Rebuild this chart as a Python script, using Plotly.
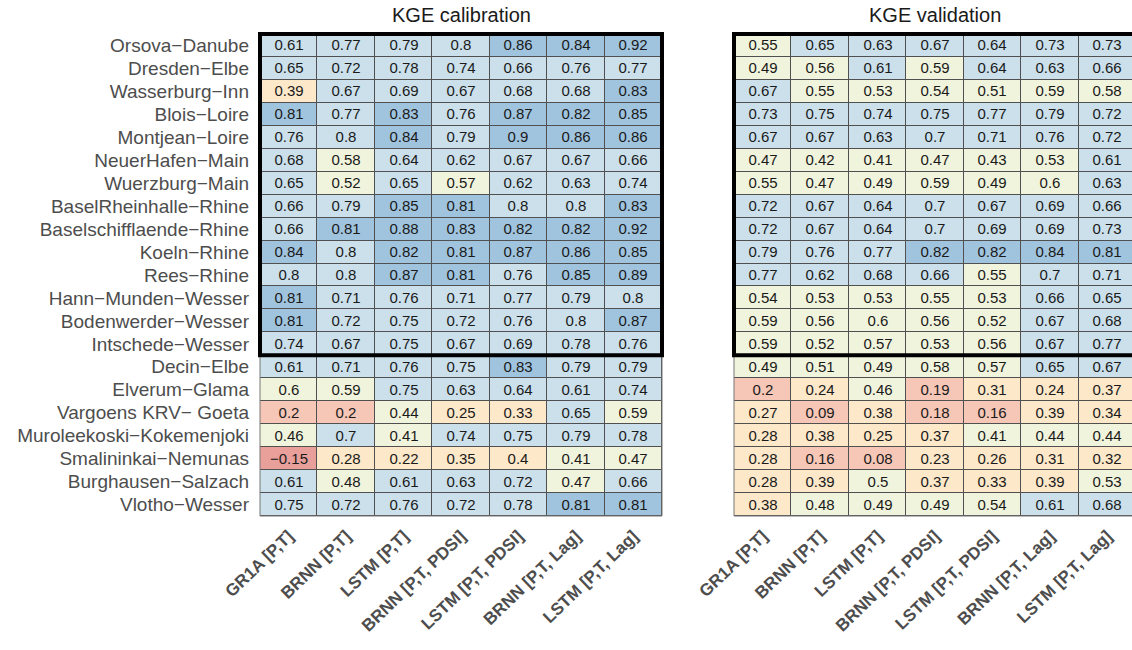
import plotly.graph_objects as go

# ---- data -------------------------------------------------------------
stations = [
    "Orsova\u2212Danube", "Dresden\u2212Elbe", "Wasserburg\u2212Inn", "Blois\u2212Loire",
    "Montjean\u2212Loire", "NeuerHafen\u2212Main", "Wuerzburg\u2212Main",
    "BaselRheinhalle\u2212Rhine", "Baselschifflaende\u2212Rhine", "Koeln\u2212Rhine",
    "Rees\u2212Rhine", "Hann\u2212Munden\u2212Wesser", "Bodenwerder\u2212Wesser",
    "Intschede\u2212Wesser", "Decin\u2212Elbe", "Elverum\u2212Glama",
    "Vargoens KRV\u2212 Goeta", "Muroleekoski\u2212Kokemenjoki",
    "Smalininkai\u2212Nemunas", "Burghausen\u2212Salzach", "Vlotho\u2212Wesser",
]

models = ["GR1A [P,T]", "BRNN [P,T]", "LSTM [P,T]", "BRNN [P,T, PDSI]",
          "LSTM [P,T, PDSI]", "BRNN [P,T, Lag]", "LSTM [P,T, Lag]"]

kge_calibration = [
    [0.61, 0.77, 0.79, 0.8, 0.86, 0.84, 0.92],
    [0.65, 0.72, 0.78, 0.74, 0.66, 0.76, 0.77],
    [0.39, 0.67, 0.69, 0.67, 0.68, 0.68, 0.83],
    [0.81, 0.77, 0.83, 0.76, 0.87, 0.82, 0.85],
    [0.76, 0.8, 0.84, 0.79, 0.9, 0.86, 0.86],
    [0.68, 0.58, 0.64, 0.62, 0.67, 0.67, 0.66],
    [0.65, 0.52, 0.65, 0.57, 0.62, 0.63, 0.74],
    [0.66, 0.79, 0.85, 0.81, 0.8, 0.8, 0.83],
    [0.66, 0.81, 0.88, 0.83, 0.82, 0.82, 0.92],
    [0.84, 0.8, 0.82, 0.81, 0.87, 0.86, 0.85],
    [0.8, 0.8, 0.87, 0.81, 0.76, 0.85, 0.89],
    [0.81, 0.71, 0.76, 0.71, 0.77, 0.79, 0.8],
    [0.81, 0.72, 0.75, 0.72, 0.76, 0.8, 0.87],
    [0.74, 0.67, 0.75, 0.67, 0.69, 0.78, 0.76],
    [0.61, 0.71, 0.76, 0.75, 0.83, 0.79, 0.79],
    [0.6, 0.59, 0.75, 0.63, 0.64, 0.61, 0.74],
    [0.2, 0.2, 0.44, 0.25, 0.33, 0.65, 0.59],
    [0.46, 0.7, 0.41, 0.74, 0.75, 0.79, 0.78],
    [-0.15, 0.28, 0.22, 0.35, 0.4, 0.41, 0.47],
    [0.61, 0.48, 0.61, 0.63, 0.72, 0.47, 0.66],
    [0.75, 0.72, 0.76, 0.72, 0.78, 0.81, 0.81],
]

kge_validation = [
    [0.55, 0.65, 0.63, 0.67, 0.64, 0.73, 0.73],
    [0.49, 0.56, 0.61, 0.59, 0.64, 0.63, 0.66],
    [0.67, 0.55, 0.53, 0.54, 0.51, 0.59, 0.58],
    [0.73, 0.75, 0.74, 0.75, 0.77, 0.79, 0.72],
    [0.67, 0.67, 0.63, 0.7, 0.71, 0.76, 0.72],
    [0.47, 0.42, 0.41, 0.47, 0.43, 0.53, 0.61],
    [0.55, 0.47, 0.49, 0.59, 0.49, 0.6, 0.63],
    [0.72, 0.67, 0.64, 0.7, 0.67, 0.69, 0.66],
    [0.72, 0.67, 0.64, 0.7, 0.69, 0.69, 0.73],
    [0.79, 0.76, 0.77, 0.82, 0.82, 0.84, 0.81],
    [0.77, 0.62, 0.68, 0.66, 0.55, 0.7, 0.71],
    [0.54, 0.53, 0.53, 0.55, 0.53, 0.66, 0.65],
    [0.59, 0.56, 0.6, 0.56, 0.52, 0.67, 0.68],
    [0.59, 0.52, 0.57, 0.53, 0.56, 0.67, 0.77],
    [0.49, 0.51, 0.49, 0.58, 0.57, 0.65, 0.67],
    [0.2, 0.24, 0.46, 0.19, 0.31, 0.24, 0.37],
    [0.27, 0.09, 0.38, 0.18, 0.16, 0.39, 0.34],
    [0.28, 0.38, 0.25, 0.37, 0.41, 0.44, 0.44],
    [0.28, 0.16, 0.08, 0.23, 0.26, 0.31, 0.32],
    [0.28, 0.39, 0.5, 0.37, 0.33, 0.39, 0.53],
    [0.38, 0.48, 0.49, 0.49, 0.54, 0.61, 0.68],
]

# the first stations are framed as one group
n_framed = 14

# KGE classes: (-inf,0], (0,0.2], (0.2,0.4], (0.4,0.6], (0.6,0.8], (0.8,1]
class_edges = [0.0, 0.2, 0.4, 0.6, 0.8]
class_colors = ["#e9a09a", "#f6c6b6", "#fde8c9", "#f1f4dc", "#cbe0eb", "#a0c4de"]

# ---- helpers ------------------------------------------------------------
def kge_class(v):
    return sum(v > e for e in class_edges)


def label(v):
    return f"{v:g}".replace("-", "\u2212")


colorscale = [[i / (len(class_colors) - 1), c] for i, c in enumerate(class_colors)]

# ---- layout geometry (pixels) ------------------------------------------
W, H = 1132, 650
left_x0, left_x1 = 260, 662
right_x0 = 734
top_y, bottom_y = 34, 516
col_w = (left_x1 - left_x0) / len(models)
right_range_end = -0.5 + (W - right_x0) / col_w

FONT = "Liberation Sans, Arial, Helvetica, sans-serif"
GRID = "#505050"

fig = go.Figure()

panels = [
    (kge_calibration, "x", "y", "KGE calibration"),
    (kge_validation, "x2", "y2", "KGE validation"),
]
for values, xa, ya, title in panels:
    fig.add_trace(go.Heatmap(
        z=[[kge_class(v) for v in row] for row in values],
        text=[[label(v) for v in row] for row in values],
        x=list(range(len(models))),
        y=list(range(len(stations))),
        texttemplate="%{text}",
        textfont=dict(family=FONT, size=15, color="#1a1a1a"),
        colorscale=colorscale, zmin=0, zmax=len(class_colors) - 1,
        showscale=False, xgap=1, ygap=1, hoverinfo="skip",
        xaxis=xa, yaxis=ya,
    ))

x_common = dict(
    tickmode="array", tickvals=list(range(len(models))), ticktext=models,
    tickangle=-44, showgrid=False, zeroline=False, showline=False, ticks="",
    automargin=False, ticklabelstandoff=6,
    tickfont=dict(family=FONT, size=17, color="#4d4d4d", weight="bold"),
)
y_common = dict(
    tickmode="array", tickvals=list(range(len(stations))), ticktext=stations,
    range=[len(stations) - 0.5, -0.5], showgrid=False, zeroline=False,
    showline=False, ticks="", automargin=False,
    domain=[1 - bottom_y / H, 1 - top_y / H],
)

fig.update_layout(
    width=W, height=H, autosize=False,
    margin=dict(l=0, r=0, t=0, b=0),
    paper_bgcolor="white", plot_bgcolor=GRID,
    showlegend=False,
    xaxis=dict(**x_common, domain=[left_x0 / W, left_x1 / W],
               range=[-0.5, len(models) - 0.5]),
    xaxis2=dict(**x_common, domain=[right_x0 / W, 1.0],
                range=[-0.5, right_range_end], anchor="y2"),
    yaxis=dict(**y_common, anchor="x", ticklabelstandoff=10,
               tickfont=dict(family=FONT, size=19, color="#4d4d4d")),
    yaxis2=dict(**y_common, anchor="x2", showticklabels=False),
)

# frames: thin grey outline around each grid, thick black around the group
for xa, ya, x_end in [("x", "y", 1.0),
                      ("x2", "y2", (len(models)) / (right_range_end + 0.5))]:
    fig.add_shape(type="rect", xref=f"{xa} domain", yref=f"{ya} domain",
                  x0=0, x1=x_end, y0=0, y1=1,
                  line=dict(color="#777777", width=1), layer="above")
    fig.add_shape(type="rect", xref=f"{xa} domain", yref=f"{ya} domain",
                  x0=0, x1=x_end, y0=1 - n_framed / len(stations), y1=1,
                  line=dict(color="black", width=4), layer="above")

for values, xa, ya, title in panels:
    fig.add_annotation(
        text=title, xref=xa, x=(len(models) - 1) / 2,
        yref=f"{ya} domain", y=1, yanchor="bottom", yshift=6,
        showarrow=False, font=dict(family=FONT, size=20, color="#1a1a1a"),
    )

fig.write_html("out.html")
